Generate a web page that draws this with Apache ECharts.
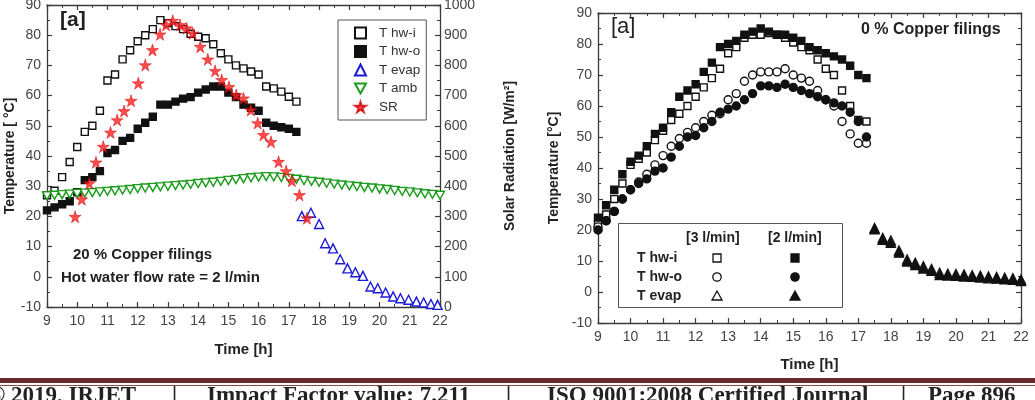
<!DOCTYPE html>
<html>
<head>
<meta charset="utf-8">
<script src="https://cdn.jsdelivr.net/npm/echarts@6/dist/echarts.min.js"></script>
<style>
  html, body { margin: 0; padding: 0; background: #fff; }
  #chart { width: 1035px; height: 400px; }
</style>
</head>
<body>
<div id="chart"></div>
<script>
// ---- left panel: 20 % copper filings, 2 l/min ----
const quarterTimes = [9, 9.25, 9.5, 9.75, 10, 10.25, 10.5, 10.75, 11, 11.25, 11.5, 11.75,
  12, 12.25, 12.5, 12.75, 13, 13.25, 13.5, 13.75, 14, 14.25, 14.5, 14.75,
  15, 15.25, 15.5, 15.75, 16, 16.25, 16.5, 16.75, 17, 17.25];

const hwInLeft = [27, 28.5, 33, 38, 43, 48, 50, 55, 65, 67, 72, 75, 78, 80, 82, 85, 84,
  83, 82, 80.5, 79.5, 79, 77, 74, 72, 70, 69, 68, 67, 63, 62.4, 61.3, 59.6, 58];
const hwOutLeft = [22, 23, 24, 25, 28, 32, 33, 35, 41, 42, 45, 46, 49, 51, 53, 57, 57,
  58, 59, 59.5, 61, 62, 63, 63, 61, 59.5, 57, 56, 55, 51, 50, 49.5, 49, 48];

const evapTimesLeft = [17.43, 17.73, 18.0, 18.2, 18.46, 18.7, 18.94, 19.2, 19.45, 19.7,
  19.94, 20.2, 20.45, 20.69, 20.96, 21.22, 21.46, 21.7, 21.92];
const evapLeft = [20.1, 21.2, 17.5, 11.1, 9.4, 5.8, 2.8, 1.5, 0.3, -3.2, -3.8, -5.2,
  -6.5, -7.1, -7.6, -8.2, -8.5, -9.0, -9.3];

const ambTimes = [9, 9.25, 9.5, 9.75, 10, 10.25, 10.5, 10.75, 11, 11.25, 11.5, 11.75,
  12, 12.25, 12.5, 12.75, 13, 13.25, 13.5, 13.75, 14, 14.25, 14.5, 14.75, 15, 15.25,
  15.5, 15.75, 16, 16.25, 16.5, 16.75, 17, 17.25, 17.5, 17.75, 18, 18.25, 18.5, 18.75,
  19, 19.25, 19.5, 19.75, 20, 20.25, 20.5, 20.75, 21, 21.25, 21.5, 21.75, 22];
const ambLeft = [26.8, 27.0, 27.2, 27.4, 27.6, 27.7, 27.9, 28.1, 28.3, 28.5, 28.7, 28.9,
  29.2, 29.4, 29.6, 29.8, 30.0, 30.2, 30.4, 30.6, 30.9, 31.1, 31.3, 31.6, 31.9, 32.2,
  32.5, 32.8, 33.0, 33.2, 33.1, 32.9, 32.6, 32.3, 31.9, 31.6, 31.3, 31.0, 30.7, 30.4,
  30.1, 29.9, 29.6, 29.4, 29.1, 28.9, 28.6, 28.3, 28.1, 27.8, 27.5, 27.3, 27.0];

const srTimes = [9.93, 10.15, 10.4, 10.62, 10.86, 11.1, 11.32, 11.55, 11.78, 12.02,
  12.25, 12.49, 12.74, 12.94, 13.16, 13.4, 13.62, 13.82, 14.07, 14.32, 14.56, 14.78,
  15.02, 15.26, 15.5, 15.74, 15.97, 16.16, 16.41, 16.66, 16.91, 17.1, 17.35, 17.6];
const solarRad = [299, 357, 410, 479, 531, 578, 619, 649, 683, 741, 801, 851, 903, 934,
  948, 934, 923, 906, 862, 820, 782, 752, 729, 702, 691, 652, 609, 570, 547, 481, 450,
  418, 371, 294];

// ---- right panel: 0 % copper filings, 3 vs 2 l/min ----
const hwIn3 = [22, 25, 30, 35, 41, 43, 45, 49, 52, 55.5, 57.5, 60, 63, 66, 69, 72, 77,
  79, 82, 83, 83, 83.5, 83, 82, 80.5, 79, 78, 75, 72, 70, 65, 60, 55.5, 55];
const hwIn2 = [24, 28, 33, 38, 42, 44, 47, 51, 53, 58, 63, 65, 67, 71, 74, 79, 80, 81,
  83, 84, 85, 84, 83, 83, 82, 81, 79, 78, 77, 76, 75, 73, 70, 69];
const hwOut3 = [21, 23, 26, 30, 33, 35.5, 38, 41, 44, 47, 49.5, 51.5, 53, 55, 57, 57.5,
  62, 64, 68, 70, 71, 71, 71, 72, 70, 69, 68, 65, 62, 60, 55, 51, 48, 48];
const hwOut2 = [20, 23, 26, 30, 33, 35, 36.5, 39, 40, 43.5, 47, 50, 50.5, 53, 55, 58,
  59, 60, 62, 64, 66.5, 66.5, 66, 67, 66, 65, 64, 63, 62, 61, 60, 58, 55, 50];

const evapTimesRight = [17.5, 17.75, 18, 18.25, 18.5, 18.75, 19, 19.25, 19.5, 19.75,
  20, 20.25, 20.5, 20.75, 21, 21.25, 21.5, 21.75, 22];
const evap3 = [20.6, 17.4, 16.6, 13.4, 10.5, 9.4, 8.3, 7.4, 6.2, 5.9, 5.8, 5.6, 5.4,
  5.2, 5.0, 4.8, 4.6, 4.4, 4.0];
const evap2 = [20.2, 16.8, 15.9, 12.7, 9.8, 8.7, 7.6, 6.8, 5.5, 5.3, 5.2, 5.0, 4.9,
  4.7, 4.4, 4.3, 4.1, 3.9, 3.5];

const leftLegend = ['T hw-i', 'T hw-o', 'T evap', 'T amb', 'SR'];

const FONT = '"Liberation Sans", Arial, sans-serif';
const SERIF = 'bold 23px "Liberation Serif", serif';
const AX = '#3a3a3a';
const INK = '#111';
const STAR = 'path://M50,0L61,35L98,35L68,57L79,91L50,70L21,91L32,57L2,35L39,35Z';
const DOWN_TRI = 'path://M0,0L10,0L5,9Z';

const pairs = (xs, ys) => xs.map((x, i) => [x, ys[i]]);

function frameAxis(extra) {
  return Object.assign({
    type: 'value',
    axisLine: { show: true, onZero: false, lineStyle: { color: AX, width: 1.3 } },
    axisTick: { show: true, inside: true, length: 5, lineStyle: { color: AX, width: 1.2 } },
    minorTick: { show: true, splitNumber: 2, length: 3, lineStyle: { color: AX, width: 1 } },
    splitLine: { show: false },
    axisLabel: { show: false },
  }, extra);
}

const tickLabel = (margin) => ({
  show: true, margin, fontSize: 14, color: '#444', fontFamily: FONT,
  formatter: (v) => String(v),
});
const axisName = { fontSize: 14, fontWeight: 'bold', color: '#222', fontFamily: FONT };

const timeAxis = (gridIndex, position, nameGap, margin) => frameAxis({
  gridIndex, position, min: 9, max: 22, interval: 1,
  name: position === 'bottom' ? 'Time [h]' : '',
  nameLocation: 'middle', nameGap,
  nameTextStyle: Object.assign({}, axisName, { fontSize: 15 }),
  axisLabel: position === 'bottom' ? tickLabel(margin) : { show: false },
});

function scatter(name, x, y, data, symbol, size, fill, stroke, extra) {
  return Object.assign({
    name, type: 'scatter', xAxisIndex: x, yAxisIndex: y, data,
    symbol, symbolSize: size, silent: true,
    itemStyle: { color: fill, borderColor: stroke, borderWidth: 1.4, opacity: 1 },
  }, extra || {});
}

// legend box of the right panel (two flow-rate columns)
function rightLegend() {
  const els = [
    { type: 'rect', shape: { x: 618.5, y: 223.5, width: 224, height: 84 },
      style: { fill: '#fff', stroke: '#555', lineWidth: 1 } },
  ];
  const txt = (x, y, t) => ({ type: 'text', x, y,
    style: { text: t, font: 'bold 14px ' + FONT, fill: '#222', verticalAlign: 'middle' } });
  els.push(txt(686, 238, '[3 l/min]'), txt(768, 238, '[2 l/min]'));
  const rows = ['T hw-i', 'T hw-o', 'T evap'];
  const ys = [258, 277, 296];
  rows.forEach((r, i) => els.push(txt(637, ys[i], r)));
  [[717, '#fff'], [795, INK]].forEach(([cx, fill]) => {
    const st = { fill, stroke: INK, lineWidth: 1.3 };
    els.push({ type: 'rect', shape: { x: cx - 4, y: ys[0] - 4, width: 8, height: 8 }, style: st });
    els.push({ type: 'circle', shape: { cx, cy: ys[1], r: 4.2 }, style: st });
    els.push({ type: 'polygon', shape: { points: [[cx - 5, ys[2] + 4], [cx + 5, ys[2] + 4], [cx, ys[2] - 5]] }, style: st });
  });
  return els;
}

const footerText = (x, t) => ({ type: 'text', x, y: 385, style: { text: t, font: SERIF, fill: '#222' } });

const chart = echarts.init(document.getElementById('chart'), null, { renderer: 'canvas' });

chart.setOption({
  animation: false,
  backgroundColor: '#fff',
  textStyle: { fontFamily: FONT },
  grid: [
    { left: 47, top: 5, width: 393, height: 302, outerBoundsMode: 'none' },
    { left: 598, top: 13, width: 423, height: 310, outerBoundsMode: 'none' },
  ],
  xAxis: [
    timeAxis(0, 'bottom', 35, 7),
    timeAxis(0, 'top', 0, 0),
    timeAxis(1, 'bottom', 34, 7),
    timeAxis(1, 'top', 0, 0),
  ],
  yAxis: [
    frameAxis({ gridIndex: 0, position: 'left', min: -10, max: 90, interval: 10,
      name: 'Temperature [ °C]', nameLocation: 'middle', nameRotate: 90, nameGap: 29,
      nameTextStyle: axisName, axisLabel: tickLabel(6) }),
    frameAxis({ gridIndex: 0, position: 'right', min: 0, max: 1000, interval: 100,
      name: 'Solar Radiation [W/m²]', nameLocation: 'middle', nameRotate: 90, nameGap: 63,
      nameTextStyle: axisName, axisLabel: tickLabel(4) }),
    frameAxis({ gridIndex: 1, position: 'left', min: -10, max: 90, interval: 10,
      name: 'Temperature [°C]', nameLocation: 'middle', nameRotate: 90, nameGap: 37,
      nameTextStyle: axisName, axisLabel: tickLabel(6) }),
    frameAxis({ gridIndex: 1, position: 'right', min: -10, max: 90, interval: 10 }),
  ],
  legend: {
    data: leftLegend,
    orient: 'vertical',
    left: 338, top: 20,
    padding: [6, 6, 6, 16],
    itemGap: 4.5,
    itemWidth: 11, itemHeight: 11,
    borderColor: '#555', borderWidth: 1, borderRadius: 0,
    backgroundColor: '#fff',
    selectedMode: false,
    textStyle: { fontSize: 13.5, color: '#333', lineHeight: 14, padding: [0, 0, 0, 8], fontFamily: FONT },
  },
  series: [
    scatter('T hw-i', 0, 0, pairs(quarterTimes, hwInLeft), 'rect', 7, '#fff', INK),
    scatter('T hw-o', 0, 0, pairs(quarterTimes, hwOutLeft), 'rect', 7, INK, INK),
    scatter('T evap', 0, 0, pairs(evapTimesLeft, evapLeft), 'triangle', 9, '#fff', '#1a1ad6'),
    scatter('T amb', 0, 0, pairs(ambTimes, ambLeft), DOWN_TRI, [9, 8], '#fff', '#1c9c1c'),
    scatter('SR', 0, 1, pairs(srTimes, solarRad), STAR, 12, '#ff2a2a', '#e00000',
      { itemStyle: { color: '#ff2020', borderColor: '#d00000', borderWidth: 0.6 } }),

    scatter('T hw-i 3 l/min', 2, 2, pairs(quarterTimes, hwIn3), 'rect', 7, '#fff', INK),
    scatter('T hw-o 3 l/min', 2, 2, pairs(quarterTimes, hwOut3), 'circle', 8, '#fff', INK),
    scatter('T evap 3 l/min', 2, 2, pairs(evapTimesRight, evap3), 'triangle', 9, '#fff', INK),
    scatter('T hw-i 2 l/min', 2, 2, pairs(quarterTimes, hwIn2), 'rect', 7, INK, INK),
    scatter('T hw-o 2 l/min', 2, 2, pairs(quarterTimes, hwOut2), 'circle', 8, INK, INK),
    scatter('T evap 2 l/min', 2, 2, pairs(evapTimesRight, evap2), 'triangle', 9, INK, INK),
  ],
  graphic: [
    { type: 'text', x: 60, y: 10, style: { text: '[a]', font: 'bold 21px ' + FONT, fill: '#222' } },
    { type: 'text', x: 611, y: 16, style: { text: '[a]', font: '22px ' + FONT, fill: '#222' } },
    { type: 'text', x: 861, y: 22, style: { text: '0 % Copper filings', font: 'bold 16px ' + FONT, fill: '#222' } },
    { type: 'text', x: 73, y: 247, style: { text: '20 % Copper filings', font: 'bold 15px ' + FONT, fill: '#222' } },
    { type: 'text', x: 61, y: 270, style: { text: 'Hot water flow rate = 2 l/min', font: 'bold 15px ' + FONT, fill: '#222' } },
    ...rightLegend(),
    // page footer of the source journal
    { type: 'rect', shape: { x: 0, y: 378, width: 1035, height: 5 }, style: { fill: '#6b2a2a' } },
    { type: 'rect', shape: { x: 0, y: 385, width: 1035, height: 1 }, style: { fill: '#8a4a4a' } },
    footerText(-12, '© 2019, IRJET'),
    footerText(172, '|'),
    footerText(207, 'Impact Factor value: 7.211'),
    footerText(506, '|'),
    footerText(547, 'ISO 9001:2008 Certified Journal'),
    footerText(901, '|'),
    footerText(928, 'Page 896'),
  ],
});
</script>
</body>
</html>
